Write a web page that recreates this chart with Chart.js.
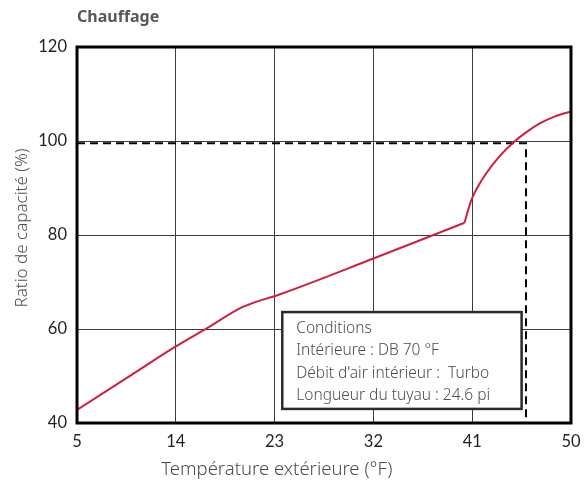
<!DOCTYPE html>
<html>
<head>
<meta charset="utf-8">
<script src="https://cdn.jsdelivr.net/npm/chart.js@4/dist/chart.umd.min.js"></script>
<style>
html,body{margin:0;padding:0;background:#fff;}
#wrap{width:584px;height:491px;}
</style>
</head>
<body>
<div id="wrap"><canvas id="grafico"></canvas></div>
<script>
// temperatura exterior (°F) y ratio de capacidad (%), tramo bajo y tramo alto
var tempBaja = [5, 10, 14, 17, 20, 21, 23.5, 32, 40.3];
var ratioBaja = [42.8, 50.3, 56.3, 60.4, 64.6, 65.5, 67.4, 75.0, 82.6];
var tempAlta = [40.3, 40.9, 41.5, 42.3, 43.5, 44.7, 46, 47.2, 48.5, 50];
var ratioAlta = [82.6, 87.3, 90.2, 93.2, 96.8, 99.6, 102.0, 103.8, 105.2, 106.3];
// linea de referencia punteada
var tempRef = [5, 45.9, 45.9];
var ratioRef = [99.5, 99.5, 40];
var ticksX = [5, 14, 23, 32, 41, 50];
var ticksY = [40, 60, 80, 100, 120];
var titulo = "Chauffage";
var tituloX = "Température extérieure (°F)";
var tituloY = "Ratio de capacité (%)";
var condiciones = ["Conditions", "Intérieure : DB 70 °F", "Débit d'air intérieur :  Turbo", "Longueur du tuyau : 24.6 pi"];

function puntos(xs, ys){
    return xs.map(function(x, i){ return {x: x, y: ys[i]}; });
}

var rojo = "#d01f3e";
var fuente = "Lato";
var fuenteTexto = "'Noto Sans'";
var gris = "#4d4d4f";

// dibuja marco, titulos y la caja de condiciones
var decoracion = {
    id: 'decoracion',
    afterDraw: function(chart){
        var ctx = chart.ctx, a = chart.chartArea;
        var sx = chart.scales.x, sy = chart.scales.y;
        ctx.save();

        // caja de condiciones
        var x0 = sx.getPixelForValue(23.7), x1 = sx.getPixelForValue(45.5);
        var y0 = sy.getPixelForValue(63.6), y1 = sy.getPixelForValue(43.0);
        ctx.fillStyle = "#fff";
        ctx.fillRect(x0, y0, x1 - x0, y1 - y0);
        ctx.strokeStyle = "#2b2b2b";
        ctx.lineWidth = 2.5;
        ctx.strokeRect(x0, y0, x1 - x0, y1 - y0);
        ctx.fillStyle = gris;
        ctx.font = "300 15.5px " + fuenteTexto;
        ctx.textAlign = "left";
        ctx.textBaseline = "middle";
        condiciones.forEach(function(t, i){
            ctx.fillText(t, x0 + 14, y0 + 16 + i * 22.5);
        });

        // marco
        ctx.strokeStyle = "#000";
        ctx.lineWidth = 3;
        ctx.strokeRect(a.left, a.top, a.right - a.left, a.bottom - a.top);

        // titulo
        ctx.fillStyle = "#58585a";
        ctx.font = "bold 16px " + fuenteTexto;
        ctx.textAlign = "left";
        ctx.textBaseline = "middle";
        ctx.fillText(titulo, a.left, 17);

        // titulo eje x
        ctx.fillStyle = gris;
        ctx.font = "300 18.5px " + fuenteTexto;
        ctx.textAlign = "center";
        ctx.fillText(tituloX, sx.getPixelForValue(23.2), 470);

        // titulo eje y
        ctx.font = "300 17px " + fuenteTexto;
        ctx.translate(22, (a.top + a.bottom) / 2 - 7);
        ctx.rotate(-Math.PI / 2);
        ctx.fillText(tituloY, 0, 0);
        ctx.restore();
    }
};

new Chart(document.getElementById("grafico"), {
    type: 'line',
    data: {
        datasets: [
            {
                data: puntos(tempBaja, ratioBaja),
                borderColor: rojo,
                borderWidth: 2,
                pointRadius: 0,
                cubicInterpolationMode: 'monotone',
                fill: false
            },
            {
                data: puntos(tempAlta, ratioAlta),
                borderColor: rojo,
                borderWidth: 2,
                pointRadius: 0,
                cubicInterpolationMode: 'monotone',
                fill: false
            },
            {
                data: puntos(tempRef, ratioRef),
                borderColor: "#000",
                borderWidth: 2,
                borderDash: [8, 5],
                pointRadius: 0,
                tension: 0,
                fill: false
            }
        ]
    },
    options: {
        responsive: true,
        maintainAspectRatio: false,
        animation: false,
        layout: { padding: { left: 0, top: 47, right: 13, bottom: 0 } },
        plugins: {
            legend: { display: false },
            tooltip: { enabled: false },
            title: { display: false }
        },
        scales: {
            x: {
                type: 'linear',
                min: 5,
                max: 50,
                afterBuildTicks: function(s){ s.ticks = ticksX.map(function(v){ return {value: v}; }); },
                afterFit: function(s){ s.height = 68; s.paddingRight = 0; s.paddingLeft = 0; },
                grid: { color: "#3c3c3c", lineWidth: 1, drawTicks: false },
                border: { display: false },
                ticks: { color: "#231f20", font: { family: fuente, size: 16.5 }, padding: 9 }
            },
            y: {
                min: 40,
                max: 120,
                afterBuildTicks: function(s){ s.ticks = ticksY.map(function(v){ return {value: v}; }); },
                afterFit: function(s){ s.width = 77; },
                grid: { color: "#3c3c3c", lineWidth: 1, drawTicks: false },
                border: { display: false },
                ticks: { color: "#231f20", font: { family: fuente, size: 16.5 }, padding: 10 }
            }
        }
    },
    plugins: [decoracion]
});
</script>
</body>
</html>
